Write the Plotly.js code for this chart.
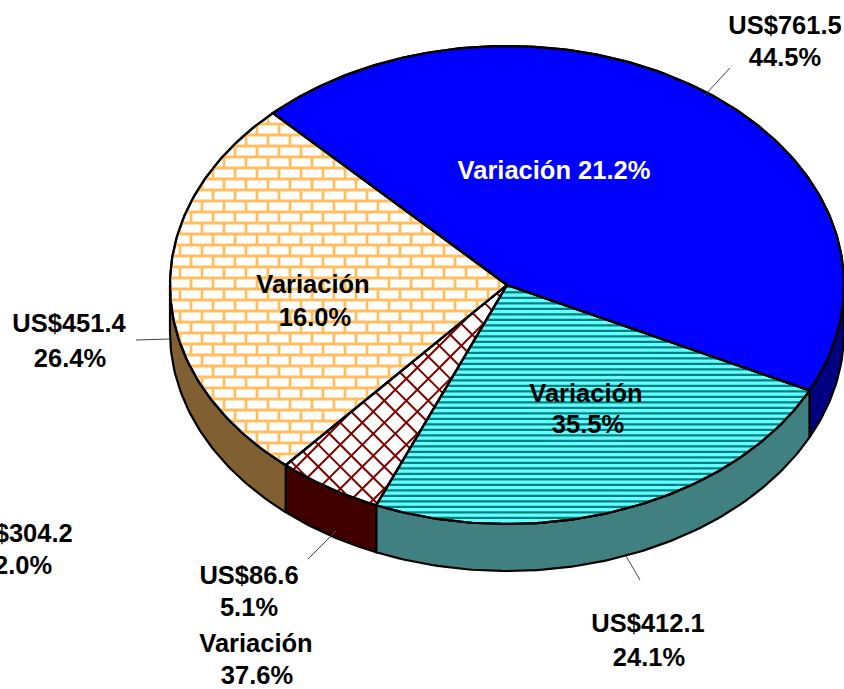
<!DOCTYPE html>
<html><head><meta charset="utf-8">
<script src="https://cdn.plot.ly/plotly-3.0.1.min.js"></script>
<style>html,body{margin:0;padding:0;background:#fff;overflow:hidden}#c{width:844px;height:689px}</style>
</head><body><div id="c"></div>
<script>
// ---- data ----
const sliceValues = [761.5, 412.1, 86.6, 451.4];
const amountLabels = ['US$761.5', 'US$412.1', 'US$86.6', 'US$451.4'];
const shareLabels = ['44.5%', '24.1%', '5.1%', '26.4%'];
const variationLabels = ['21.2%', '35.5%', '37.6%', '16.0%'];
const strayAmount = 'US$304.2';
const strayShare = '22.0%';
// ---- styling ----
const wallColors = ['#000080', '#408080', '#400000', '#806033'];
const topColors = ['#0000FF', '#66FFFF', '#FFFFFF', '#FFFFFF'];
const BRICK = '#FFBF60', LATTICE = '#800000', STRIPE = '#008080';
const C = {x: 507, y: 285, rx: 337, ry: 239, depth: 47, start: 316};
const STRIPE_PERIOD = 5.5, STRIPE_PHASE = 0.8;

const total = sliceValues.reduce((a, b) => a + b, 0);
let acc = C.start;
const spans = sliceValues.map(v => { const a = acc; acc += v / total * 360; return [a, acc]; });
const pt = (deg, dy = 0) => {
  const r = deg * Math.PI / 180;
  return [C.x + C.rx * Math.sin(r), C.y - C.ry * Math.cos(r) + dy];
};
const arc = (a, b, dy = 0) => {
  const n = Math.max(2, Math.ceil(Math.abs(b - a)));
  const o = [];
  for (let i = 0; i <= n; i++) o.push(pt(a + (b - a) * i / n, dy));
  return o;
};
const sectorPoly = s => [[C.x, C.y], ...arc(s[0], s[1]), [C.x, C.y]];

const traces = [];
const poly = (p, fill, lw = 2.2) => traces.push({
  x: p.map(q => q[0]), y: p.map(q => q[1]), type: 'scatter', mode: 'lines', fill: 'toself',
  fillcolor: fill, line: {color: '#000', width: lw}, hoverinfo: 'skip', showlegend: false
});

// walls: visible part of each slice between 90 and 270 deg (clockwise from top)
spans.forEach((s, i) => {
  [0, 360].forEach(o => {
    const a = Math.max(s[0], 90 + o), b = Math.min(s[1], 270 + o);
    if (b > a) {
      const top = arc(a, b), bot = arc(b, a, C.depth);
      poly([...top, ...bot, top[0]], wallColors[i]);
    }
  });
});
// tops
spans.forEach((s, i) => poly(sectorPoly(s), topColors[i]));

// pattern lines clipped to a slice
function clip(a, b, P) {
  const ts = [0, 1];
  for (let i = 0; i < P.length - 1; i++) {
    const p = P[i], q = P[i + 1];
    const d = (b[0] - a[0]) * (q[1] - p[1]) - (b[1] - a[1]) * (q[0] - p[0]);
    if (Math.abs(d) < 1e-9) continue;
    const t = ((p[0] - a[0]) * (q[1] - p[1]) - (p[1] - a[1]) * (q[0] - p[0])) / d;
    const u = ((p[0] - a[0]) * (b[1] - a[1]) - (p[1] - a[1]) * (b[0] - a[0])) / d;
    if (t > 0 && t < 1 && u >= 0 && u <= 1) ts.push(t);
  }
  ts.sort((m, n) => m - n);
  const inside = m => {
    let c = false;
    for (let i = 0; i < P.length - 1; i++) {
      const p = P[i], q = P[i + 1];
      if ((p[1] > m[1]) !== (q[1] > m[1]) && m[0] < p[0] + (m[1] - p[1]) / (q[1] - p[1]) * (q[0] - p[0])) c = !c;
    }
    return c;
  };
  const out = [];
  for (let i = 0; i < ts.length - 1; i++) {
    const f = t => [a[0] + (b[0] - a[0]) * t, a[1] + (b[1] - a[1]) * t];
    if (inside(f((ts[i] + ts[i + 1]) / 2))) out.push([f(ts[i]), f(ts[i + 1])]);
  }
  return out;
}
function patternTrace(segs, color, width) {
  const x = [], y = [];
  segs.forEach(g => { x.push(g[0][0], g[1][0], null); y.push(g[0][1], g[1][1], null); });
  traces.push({x, y, type: 'scatter', mode: 'lines', line: {color, width}, hoverinfo: 'skip', showlegend: false, connectgaps: false});
}
// stripes (slice 1)
{
  const P = sectorPoly(spans[1]); const segs = [];
  for (let y = STRIPE_PHASE; y < 689; y += STRIPE_PERIOD) segs.push(...clip([0, y], [844, y], P));
  patternTrace(segs, STRIPE, 2.3);
}
// lattice (slice 2)
{
  const P = sectorPoly(spans[2]); const segs = [];
  for (let c = 15; c < 1600; c += 22) segs.push(...clip([0, c], [c, 0], P));
  for (let c = -808.4; c < 900; c += 22) segs.push(...clip([0, -c], [1000, 1000 - c], P));
  patternTrace(segs, LATTICE, 2);
}
// bricks (slice 3)
{
  const P = sectorPoly(spans[3]); const segs = [];
  for (let k = 0; k < 60; k++) {
    const y = 3 + 11 * k;
    segs.push(...clip([0, y], [844, y], P));
    for (let x = (k % 2 ? 15 : 4); x < 844; x += 22) segs.push(...clip([x, y], [x, y + 11], P));
  }
  patternTrace(segs, BRICK, 2.8);
}
// outlines again over the patterns
spans.forEach(s => {
  const p = sectorPoly(s);
  traces.push({x: p.map(q => q[0]), y: p.map(q => q[1]), type: 'scatter', mode: 'lines',
    line: {color: '#000', width: 2.2}, hoverinfo: 'skip', showlegend: false});
});
// leader lines
[[[704, 96], [730, 68]], [[136, 340], [170, 339]], [[336, 531], [308, 559]], [[626, 556], [640, 580]]].forEach(l => {
  traces.push({x: [l[0][0], l[1][0]], y: [l[0][1], l[1][1]], type: 'scatter', mode: 'lines',
    line: {color: '#444', width: 1}, hoverinfo: 'skip', showlegend: false});
});
// text lines
const textLines = [
  [amountLabels[0], 785, 27.5, '#000'], [shareLabels[0], 785, 59.5, '#000'],
  ['Variación ' + variationLabels[0], 554, 172.5, '#fff'],
  ['Variación', 313, 286.5, '#000'], [variationLabels[3], 315, 319.5, '#000'],
  ['Variación', 586, 395.5, '#000'], [variationLabels[1], 588, 426.5, '#000'],
  [amountLabels[3], 69, 325.5, '#000'], [shareLabels[3], 70, 360.5, '#000'],
  [strayAmount, 16, 535.5, '#000'], [strayShare, 16, 567.5, '#000'],
  [amountLabels[2], 249, 577.5, '#000'], [shareLabels[2], 249, 609.5, '#000'],
  ['Variación', 256, 645.5, '#000'], [variationLabels[2], 257, 677.5, '#000'],
  [amountLabels[1], 648, 625.5, '#000'], [shareLabels[1], 649, 659.5, '#000']
];
traces.push({
  x: textLines.map(t => t[1]), y: textLines.map(t => t[2]), text: textLines.map(t => t[0]),
  type: 'scatter', mode: 'text', textposition: 'middle center', cliponaxis: false,
  textfont: {family: 'Liberation Sans, Arial, sans-serif', size: 25.5, weight: 700, color: textLines.map(t => t[3])},
  hoverinfo: 'skip', showlegend: false
});

Plotly.newPlot('c', traces, {
  width: 844, height: 689, margin: {l: 0, r: 0, t: 0, b: 0}, showlegend: false,
  paper_bgcolor: '#fff', plot_bgcolor: '#fff',
  xaxis: {range: [0, 844], visible: false, fixedrange: true},
  yaxis: {range: [689, 0], visible: false, fixedrange: true}
}, {displayModeBar: false, staticPlot: true});
</script></body></html>
